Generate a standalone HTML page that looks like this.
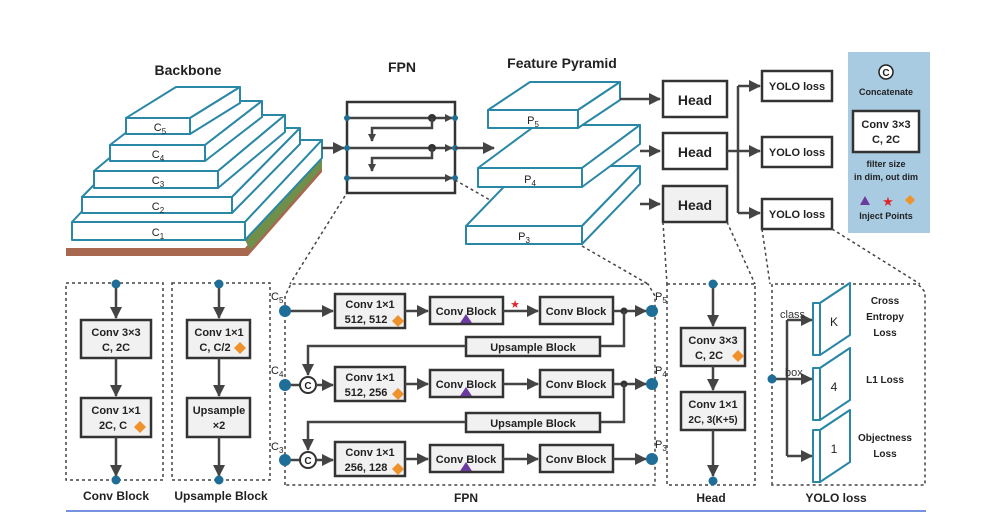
<!DOCTYPE html>
<html><head><meta charset="utf-8"><style>
html,body{margin:0;padding:0;background:#fff;}
svg{display:block;font-family:"Liberation Sans",sans-serif;}
.t{font-weight:bold;fill:#222;}
.box{fill:#f1f1f1;stroke:#333;stroke-width:2.5;}
.wb{fill:#fff;stroke:#333;stroke-width:2.5;}
.sl{fill:#fff;stroke:#2b87a6;stroke-width:2;stroke-linejoin:round;}
.ln{stroke:#444;stroke-width:2.5;fill:none;}
.ds{stroke:#444;stroke-width:1.5;fill:none;stroke-dasharray:3,3;}
.dot{fill:#1e6e98;}
</style></head><body>
<svg width="989" height="525" viewBox="0 0 989 525" xmlns="http://www.w3.org/2000/svg">
<defs>
<marker id="a" markerWidth="8" markerHeight="8" refX="7" refY="4" orient="auto" markerUnits="userSpaceOnUse"><path d="M0,0 L8,4 L0,8 z" fill="#444"/></marker>
<marker id="b" markerWidth="12" markerHeight="12" refX="11" refY="6" orient="auto" markerUnits="userSpaceOnUse"><path d="M0,0 L12,6 L0,12 z" fill="#444"/></marker>
</defs>

<!-- Backbone -->
<text x="188" y="75" class="t" font-size="14" text-anchor="middle">Backbone</text>
<polygon points="66,248 245,248 322,160 322,172 248,256 66,256" fill="#a8684f"/>
<polygon points="245,240 322,150 322,168 250,250" fill="#6f8f4a"/>
<g class="sl">
<polygon points="72,222 245,222 322,140 149,140"/><rect x="72" y="222" width="173" height="18"/><polygon points="245,222 322,140 322,158 245,240"/>
<polygon points="82,197 232,197 300,128 150,128"/><rect x="82" y="197" width="150" height="16"/><polygon points="232,197 300,128 300,144 232,213"/>
<polygon points="94,171 218,171 285,115 161,115"/><rect x="94" y="171" width="124" height="17"/><polygon points="218,171 285,115 285,132 218,188"/>
<polygon points="110,145 205,145 262,101 167,101"/><rect x="110" y="145" width="95" height="16"/><polygon points="205,145 262,101 262,117 205,161"/>
<polygon points="126,118 190,118 240,87 176,87"/><rect x="126" y="118" width="64" height="16"/><polygon points="190,118 240,87 240,103 190,134"/>
</g>
<g font-size="11" fill="#222" text-anchor="middle">
<text x="160" y="131">C<tspan font-size="8" dy="3">5</tspan></text>
<text x="158" y="158">C<tspan font-size="8" dy="3">4</tspan></text>
<text x="158" y="184">C<tspan font-size="8" dy="3">3</tspan></text>
<text x="158" y="210">C<tspan font-size="8" dy="3">2</tspan></text>
<text x="158" y="236">C<tspan font-size="8" dy="3">1</tspan></text>
</g>
<line class="ln" x1="322" y1="148" x2="344" y2="148" marker-end="url(#b)"/>

<!-- FPN small -->
<text x="402" y="72" class="t" font-size="14" text-anchor="middle">FPN</text>
<rect x="347" y="102" width="108" height="91" fill="#fff" stroke="#333" stroke-width="2.5"/>
<line class="ln" x1="347" y1="118" x2="452" y2="118" marker-end="url(#a)"/>
<line class="ln" x1="347" y1="148" x2="452" y2="148" marker-end="url(#a)"/>
<line class="ln" x1="347" y1="178" x2="452" y2="178" marker-end="url(#a)"/>
<circle cx="432" cy="118" r="4" fill="#333"/><circle cx="432" cy="148" r="4" fill="#333"/>
<polyline class="ln" points="432,118 432,128 372,128 372,141" marker-end="url(#a)"/>
<polyline class="ln" points="432,148 432,158 372,158 372,171" marker-end="url(#a)"/>
<g class="dot"><circle cx="347" cy="118" r="3"/><circle cx="347" cy="148" r="3"/><circle cx="347" cy="178" r="3"/><circle cx="455" cy="118" r="3"/><circle cx="455" cy="148" r="3"/><circle cx="455" cy="178" r="3"/></g>
<line class="ln" x1="455" y1="148" x2="494" y2="148" marker-end="url(#b)"/>

<!-- Feature pyramid -->
<text x="562" y="68" class="t" font-size="14" text-anchor="middle">Feature Pyramid</text>
<line class="ds" x1="455" y1="180" x2="490" y2="200"/>
<g class="sl">
<polygon points="466,226 582,226 640,166 524,166"/><rect x="466" y="226" width="116" height="18"/><polygon points="582,226 640,166 640,184 582,244"/>
<polygon points="478,168 582,168 640,125 536,125"/><rect x="478" y="168" width="104" height="19"/><polygon points="582,168 640,125 640,144 582,187"/>
<polygon points="488,110 578,110 620,82 530,82"/><rect x="488" y="110" width="90" height="18"/><polygon points="578,110 620,82 620,100 578,128"/>
</g>
<g font-size="11" fill="#222" text-anchor="middle">
<text x="533" y="124">P<tspan font-size="8" dy="3">5</tspan></text>
<text x="530" y="183">P<tspan font-size="8" dy="3">4</tspan></text>
<text x="524" y="240">P<tspan font-size="8" dy="3">3</tspan></text>
</g>
<line class="ln" x1="620" y1="99" x2="660" y2="99" marker-end="url(#b)"/>
<line class="ln" x1="640" y1="151" x2="660" y2="151" marker-end="url(#b)"/>
<line class="ln" x1="640" y1="204" x2="660" y2="204" marker-end="url(#b)"/>

<!-- Heads -->
<rect class="wb" x="663" y="81" width="64" height="36"/><text x="695" y="105" class="t" font-size="14" text-anchor="middle">Head</text>
<rect class="wb" x="663" y="133" width="64" height="36"/><text x="695" y="157" class="t" font-size="14" text-anchor="middle">Head</text>
<rect class="box" x="663" y="186" width="64" height="36"/><text x="695" y="210" class="t" font-size="14" text-anchor="middle">Head</text>
<line class="ln" x1="727" y1="151" x2="738" y2="151"/>
<line class="ln" x1="738" y1="86" x2="738" y2="213"/>
<line class="ln" x1="738" y1="86" x2="760" y2="86" marker-end="url(#b)"/>
<line class="ln" x1="738" y1="151" x2="760" y2="151" marker-end="url(#b)"/>
<line class="ln" x1="738" y1="213" x2="760" y2="213" marker-end="url(#b)"/>
<rect class="wb" x="762" y="71" width="70" height="30"/><text x="797" y="90" class="t" font-size="11" text-anchor="middle">YOLO loss</text>
<rect class="wb" x="762" y="137" width="70" height="30"/><text x="797" y="156" class="t" font-size="11" text-anchor="middle">YOLO loss</text>
<rect class="wb" x="762" y="199" width="70" height="30"/><text x="797" y="218" class="t" font-size="11" text-anchor="middle">YOLO loss</text>

<!-- Legend -->
<rect x="848" y="52" width="82" height="181" fill="#a8cbe2"/>
<circle cx="886" cy="72" r="7" fill="#fff" stroke="#222" stroke-width="1.5"/><text x="886" y="76" font-size="10" class="t" text-anchor="middle">C</text>
<text x="886" y="95" class="t" font-size="9" text-anchor="middle">Concatenate</text>
<rect class="wb" x="853" y="111" width="66" height="41"/>
<text x="886" y="128" class="t" font-size="11" text-anchor="middle">Conv 3×3</text>
<text x="886" y="143" class="t" font-size="11" text-anchor="middle">C, 2C</text>
<text x="886" y="167" class="t" font-size="9" text-anchor="middle">filter size</text>
<text x="886" y="180" class="t" font-size="9" text-anchor="middle">in dim, out dim</text>
<polygon points="860,205 865,196 870,205" fill="#6b3a9e"/>
<text x="888" y="206" font-size="13" fill="#e0252a" text-anchor="middle">★</text>
<polygon points="910,195 915,200 910,205 905,200" fill="#f0922c"/>
<text x="886" y="219" class="t" font-size="9" text-anchor="middle">Inject Points</text>

<!-- dashed connectors -->
<line class="ds" x1="345" y1="196" x2="290" y2="284"/>
<line class="ds" x1="582" y1="246" x2="648" y2="284"/>
<line class="ds" x1="663" y1="222" x2="667" y2="284"/>
<line class="ds" x1="727" y1="222" x2="755" y2="284"/>
<line class="ds" x1="762" y1="229" x2="770" y2="284"/>
<line class="ds" x1="832" y1="229" x2="920" y2="284"/>

<!-- Conv Block panel -->
<rect class="ds" x="66" y="283" width="97" height="197"/>
<line class="ln" x1="116" y1="283" x2="116" y2="318" marker-end="url(#b)"/>
<rect class="box" x="81" y="320" width="70" height="38"/>
<text x="116" y="336" class="t" font-size="11" text-anchor="middle">Conv 3×3</text><text x="116" y="351" class="t" font-size="11" text-anchor="middle">C, 2C</text>
<line class="ln" x1="116" y1="358" x2="116" y2="396" marker-end="url(#b)"/>
<rect class="box" x="81" y="398" width="70" height="39"/>
<text x="116" y="414" class="t" font-size="11" text-anchor="middle">Conv 1×1</text><text x="113" y="429" class="t" font-size="11" text-anchor="middle">2C, C</text>
<polygon points="140,421 146,427 140,433 134,427" fill="#f0922c"/>
<line class="ln" x1="116" y1="437" x2="116" y2="476" marker-end="url(#b)"/>
<circle class="dot" cx="116" cy="284" r="4.5"/><circle class="dot" cx="116" cy="480" r="4.5"/>
<text x="116" y="500" class="t" font-size="12" text-anchor="middle">Conv Block</text>

<!-- Upsample panel -->
<rect class="ds" x="172" y="283" width="98" height="197"/>
<line class="ln" x1="219" y1="283" x2="219" y2="318" marker-end="url(#b)"/>
<rect class="box" x="187" y="320" width="63" height="38"/>
<text x="219" y="336" class="t" font-size="11" text-anchor="middle">Conv 1×1</text><text x="215" y="351" class="t" font-size="11" text-anchor="middle">C, C/2</text>
<polygon points="240,342 246,348 240,354 234,348" fill="#f0922c"/>
<line class="ln" x1="219" y1="358" x2="219" y2="396" marker-end="url(#b)"/>
<rect class="box" x="187" y="398" width="63" height="39"/>
<text x="219" y="414" class="t" font-size="11" text-anchor="middle">Upsample</text><text x="219" y="429" class="t" font-size="11" text-anchor="middle">×2</text>
<line class="ln" x1="219" y1="437" x2="219" y2="476" marker-end="url(#b)"/>
<circle class="dot" cx="219" cy="284" r="4.5"/><circle class="dot" cx="219" cy="480" r="4.5"/>
<text x="221" y="500" class="t" font-size="12" text-anchor="middle">Upsample Block</text>

<!-- FPN panel -->
<path class="ds" d="M285,485 L285,296 L291,284 L648,284 L655,296 L655,485 Z"/>
<text x="466" y="502" class="t" font-size="12" text-anchor="middle">FPN</text>
<g font-size="11" fill="#222">
<text x="271" y="300">C<tspan font-size="8" dy="3">5</tspan></text>
<text x="271" y="374">C<tspan font-size="8" dy="3">4</tspan></text>
<text x="271" y="450">C<tspan font-size="8" dy="3">3</tspan></text>
<text x="655" y="300">P<tspan font-size="8" dy="3">5</tspan></text>
<text x="655" y="374">P<tspan font-size="8" dy="3">4</tspan></text>
<text x="655" y="448">P<tspan font-size="8" dy="3">3</tspan></text>
</g>
<!-- row C5 -->
<line class="ln" x1="285" y1="311" x2="333" y2="311" marker-end="url(#b)"/>
<rect class="box" x="335" y="294" width="70" height="34"/>
<text x="370" y="308" class="t" font-size="11" text-anchor="middle">Conv 1×1</text><text x="366" y="323" class="t" font-size="11" text-anchor="middle">512, 512</text>
<polygon points="398,315 404,321 398,327 392,321" fill="#f0922c"/>
<line class="ln" x1="405" y1="311" x2="428" y2="311" marker-end="url(#b)"/>
<rect class="box" x="430" y="297" width="73" height="27"/><text x="466" y="315" class="t" font-size="11" text-anchor="middle">Conv Block</text>
<polygon points="460,323 466,314 472,323" fill="#6b3a9e"/>
<line class="ln" x1="503" y1="311" x2="538" y2="311" marker-end="url(#b)"/>
<text x="515" y="308" font-size="11" fill="#e0252a" text-anchor="middle">★</text>
<rect class="box" x="540" y="297" width="73" height="27"/><text x="576" y="315" class="t" font-size="11" text-anchor="middle">Conv Block</text>
<line class="ln" x1="613" y1="311" x2="646" y2="311" marker-end="url(#b)"/>
<circle cx="624" cy="311" r="3.5" fill="#333"/>
<polyline class="ln" points="624,311 624,346 600,346"/>
<rect class="box" x="466" y="337" width="134" height="19"/><text x="533" y="351" class="t" font-size="11" text-anchor="middle">Upsample Block</text>
<polyline class="ln" points="466,346 308,346 308,375" marker-end="url(#b)"/>
<!-- row C4 -->
<line class="ln" x1="285" y1="385" x2="300" y2="385"/>
<circle cx="308" cy="385" r="8" fill="#fff" stroke="#333" stroke-width="2"/><text x="308" y="389" class="t" font-size="10" text-anchor="middle">C</text>
<line class="ln" x1="316" y1="385" x2="333" y2="385" marker-end="url(#b)"/>
<rect class="box" x="335" y="367" width="70" height="34"/>
<text x="370" y="381" class="t" font-size="11" text-anchor="middle">Conv 1×1</text><text x="366" y="396" class="t" font-size="11" text-anchor="middle">512, 256</text>
<polygon points="398,388 404,394 398,400 392,394" fill="#f0922c"/>
<line class="ln" x1="405" y1="384" x2="428" y2="384" marker-end="url(#b)"/>
<rect class="box" x="430" y="370" width="73" height="27"/><text x="466" y="388" class="t" font-size="11" text-anchor="middle">Conv Block</text>
<polygon points="460,396 466,387 472,396" fill="#6b3a9e"/>
<line class="ln" x1="503" y1="384" x2="538" y2="384" marker-end="url(#b)"/>
<rect class="box" x="540" y="370" width="73" height="27"/><text x="576" y="388" class="t" font-size="11" text-anchor="middle">Conv Block</text>
<line class="ln" x1="613" y1="384" x2="646" y2="384" marker-end="url(#b)"/>
<circle cx="624" cy="384" r="3.5" fill="#333"/>
<polyline class="ln" points="624,384 624,422 600,422"/>
<rect class="box" x="466" y="413" width="134" height="19"/><text x="533" y="427" class="t" font-size="11" text-anchor="middle">Upsample Block</text>
<polyline class="ln" points="466,422 308,422 308,450" marker-end="url(#b)"/>
<!-- row C3 -->
<line class="ln" x1="285" y1="460" x2="300" y2="460"/>
<circle cx="308" cy="460" r="8" fill="#fff" stroke="#333" stroke-width="2"/><text x="308" y="464" class="t" font-size="10" text-anchor="middle">C</text>
<line class="ln" x1="316" y1="460" x2="333" y2="460" marker-end="url(#b)"/>
<rect class="box" x="335" y="442" width="70" height="34"/>
<text x="370" y="456" class="t" font-size="11" text-anchor="middle">Conv 1×1</text><text x="366" y="471" class="t" font-size="11" text-anchor="middle">256, 128</text>
<polygon points="398,463 404,469 398,475 392,469" fill="#f0922c"/>
<line class="ln" x1="405" y1="459" x2="428" y2="459" marker-end="url(#b)"/>
<rect class="box" x="430" y="445" width="73" height="27"/><text x="466" y="463" class="t" font-size="11" text-anchor="middle">Conv Block</text>
<polygon points="460,471 466,462 472,471" fill="#6b3a9e"/>
<line class="ln" x1="503" y1="459" x2="538" y2="459" marker-end="url(#b)"/>
<rect class="box" x="540" y="445" width="73" height="27"/><text x="576" y="463" class="t" font-size="11" text-anchor="middle">Conv Block</text>
<line class="ln" x1="613" y1="459" x2="646" y2="459" marker-end="url(#b)"/>
<g class="dot"><circle cx="285" cy="311" r="6"/><circle cx="285" cy="385" r="6"/><circle cx="285" cy="460" r="6"/><circle cx="652" cy="311" r="6"/><circle cx="652" cy="384" r="6"/><circle cx="652" cy="459" r="6"/></g>

<!-- Head panel -->
<rect class="ds" x="667" y="284" width="88" height="201"/>
<line class="ln" x1="713" y1="284" x2="713" y2="326" marker-end="url(#b)"/>
<rect class="box" x="681" y="328" width="64" height="38"/>
<text x="713" y="344" class="t" font-size="11" text-anchor="middle">Conv 3×3</text><text x="709" y="359" class="t" font-size="11" text-anchor="middle">C, 2C</text>
<polygon points="738,350 744,356 738,362 732,356" fill="#f0922c"/>
<line class="ln" x1="713" y1="366" x2="713" y2="390" marker-end="url(#b)"/>
<rect class="box" x="681" y="392" width="64" height="38"/>
<text x="713" y="408" class="t" font-size="11" text-anchor="middle">Conv 1×1</text><text x="713" y="423" class="t" font-size="10" text-anchor="middle">2C, 3(K+5)</text>
<line class="ln" x1="713" y1="430" x2="713" y2="476" marker-end="url(#b)"/>
<circle class="dot" cx="713" cy="284" r="4.5"/><circle class="dot" cx="713" cy="481" r="4.5"/>
<text x="711" y="502" class="t" font-size="12" text-anchor="middle">Head</text>

<!-- YOLO loss panel -->
<path class="ds" d="M772,485 L772,284 L918,284 L925,292 L925,485 Z"/>
<text x="836" y="502" class="t" font-size="12" text-anchor="middle">YOLO loss</text>
<line class="ln" x1="772" y1="379" x2="787" y2="379"/>
<line class="ln" x1="787" y1="320" x2="787" y2="456"/>
<line class="ln" x1="787" y1="320" x2="812" y2="320" marker-end="url(#b)"/>
<line class="ln" x1="787" y1="379" x2="812" y2="379" marker-end="url(#b)"/>
<line class="ln" x1="787" y1="456" x2="812" y2="456" marker-end="url(#b)"/>
<circle class="dot" cx="772" cy="379" r="4.5"/>
<text x="780" y="318" font-size="11" fill="#333">class</text>
<text x="785" y="376" font-size="11" fill="#333">box</text>
<g class="sl">
<polygon points="813,310 820,303 850,283 843,290"/><polygon points="820,303 850,283 850,335 820,355"/><rect x="813" y="303" width="7" height="52" transform="translate(0,0)"/>
<polygon points="813,375 820,368 850,348 843,355"/><polygon points="820,368 850,348 850,400 820,420"/><rect x="813" y="368" width="7" height="52"/>
<polygon points="813,437 820,430 850,410 843,417"/><polygon points="820,430 850,410 850,462 820,482"/><rect x="813" y="430" width="7" height="52"/>
</g>
<text x="834" y="326" font-size="12" fill="#222" text-anchor="middle">K</text>
<text x="834" y="391" font-size="12" fill="#222" text-anchor="middle">4</text>
<text x="834" y="453" font-size="12" fill="#222" text-anchor="middle">1</text>
<g class="t" font-size="10" text-anchor="middle">
<text x="885" y="304">Cross</text><text x="885" y="320">Entropy</text><text x="885" y="336">Loss</text>
<text x="885" y="383">L1 Loss</text>
<text x="885" y="441">Objectness</text><text x="885" y="457">Loss</text>
</g>

<line x1="66" y1="511" x2="926" y2="511" stroke="#4a6fd6" stroke-width="1.5"/>
</svg>
</body></html>
